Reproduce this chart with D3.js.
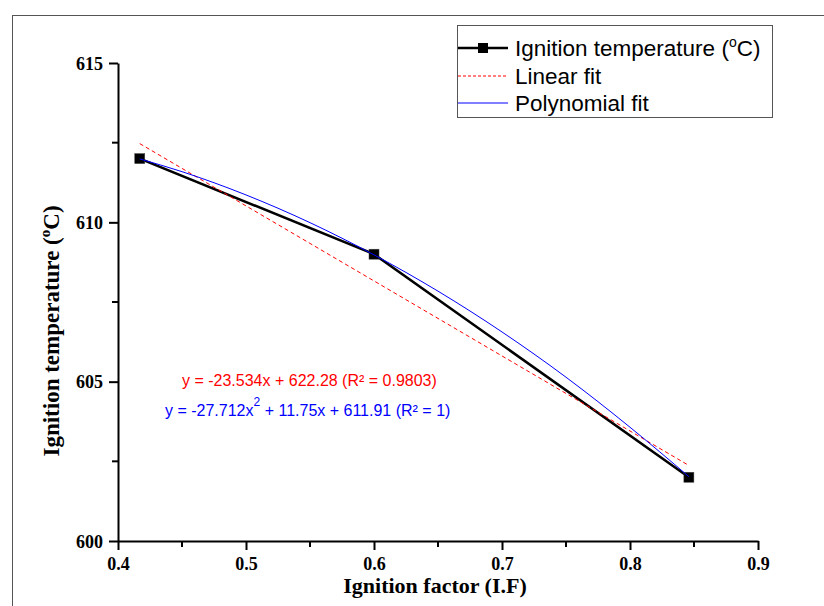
<!DOCTYPE html>
<html>
<head>
<meta charset="utf-8">
<script src="https://cdn.jsdelivr.net/npm/d3@7"></script>
<style>
  html, body { margin: 0; padding: 0; background: #fff; }
  svg { display: block; }
</style>
</head>
<body>
<div id="chart"></div>
<script>
// measured data: ignition factor vs ignition temperature
const ignitionFactor = [0.417, 0.6, 0.846];
const ignitionTemp = [612, 609, 602];

// linear fit line, end points
const linearX = [0.417, 0.846];
const linearY = [612.47, 602.37];

// polynomial fit curve
const polyX = [0.417, 0.45, 0.5, 0.55, 0.6, 0.65, 0.7, 0.75, 0.8, 0.846];
const polyY = [611.99, 611.59, 610.86, 609.99, 608.98, 607.84, 606.56, 605.14, 603.57, 602.02];

const xTicks = [0.4, 0.5, 0.6, 0.7, 0.8, 0.9];
const xMinor = [0.45, 0.55, 0.65, 0.75, 0.85];
const yTicks = [600, 605, 610, 615];
const yMinor = [602.5, 607.5, 612.5];
const legendLabels = ['Ignition temperature', 'Linear fit', 'Polynomial fit'];
const linearEq = 'y = -23.534x + 622.28 (R² = 0.9803)';

const W = 824, H = 606;
const PLOT = { left: 118, right: 758, top: 63, bottom: 541 };

const svg = d3.select('#chart').append('svg')
  .attr('width', W)
  .attr('height', H);

// outer frame (cut off at right and bottom)
svg.append('rect')
  .attr('x', 12.5).attr('y', 15.5)
  .attr('width', 900).attr('height', 700)
  .attr('fill', 'none')
  .attr('stroke', '#555')
  .attr('stroke-width', 1);

const x = d3.scaleLinear().domain([0.4, 0.9]).range([PLOT.left, PLOT.right]);
const y = d3.scaleLinear().domain([600, 615]).range([PLOT.bottom, PLOT.top]);

const serif = '"Liberation Serif", "Times New Roman", serif';
const sans = '"Liberation Sans", Arial, sans-serif';

// axes
const xAxis = svg.append('g')
  .attr('transform', `translate(0,${PLOT.bottom})`)
  .call(d3.axisBottom(x).tickValues(xTicks).tickFormat(d3.format('.1f')).tickSize(9).tickSizeOuter(0));
xAxis.selectAll('.minor')
  .data(xMinor)
  .enter().append('line')
  .attr('class', 'minor')
  .attr('x1', d => x(d)).attr('x2', d => x(d))
  .attr('y1', 0).attr('y2', 6)
  .attr('stroke', '#000').attr('stroke-width', 2);

const yAxis = svg.append('g')
  .attr('transform', `translate(${PLOT.left},0)`)
  .call(d3.axisLeft(y).tickValues(yTicks).tickFormat(d3.format('d')).tickSize(9).tickSizeOuter(0));
yAxis.selectAll('.minor')
  .data(yMinor)
  .enter().append('line')
  .attr('class', 'minor')
  .attr('x1', 0).attr('x2', -6)
  .attr('y1', d => y(d)).attr('y2', d => y(d))
  .attr('stroke', '#000').attr('stroke-width', 2);

[xAxis, yAxis].forEach(ax => {
  ax.attr('font-family', serif).attr('font-size', 18).attr('font-weight', 'bold');
  ax.select('.domain').attr('stroke', '#000').attr('stroke-width', 2);
  ax.selectAll('.tick line').attr('stroke', '#000').attr('stroke-width', 2);
  ax.selectAll('.tick text').attr('fill', '#000');
});
xAxis.selectAll('.tick text').attr('dy', '0.71em').attr('y', 16);
yAxis.selectAll('.tick text').attr('x', -15).attr('dy', '0.34em');

// axis titles
svg.append('text')
  .attr('x', (PLOT.left + PLOT.right) / 2 - 3)
  .attr('y', 593)
  .attr('text-anchor', 'middle')
  .attr('font-family', serif)
  .attr('font-weight', 'bold')
  .attr('font-size', 22)
  .text('Ignition factor (I.F)');

const yTitle = svg.append('text')
  .attr('transform', 'translate(59,331) rotate(-90)')
  .attr('text-anchor', 'middle')
  .attr('font-family', serif)
  .attr('font-weight', 'bold')
  .attr('font-size', 23);
yTitle.append('tspan').text('Ignition temperature (');
yTitle.append('tspan').attr('dy', -9).attr('font-size', 15).text('o');
yTitle.append('tspan').attr('dy', 9).text('C)');

// data series
const pts = ignitionFactor.map((f, i) => [f, ignitionTemp[i]]);
svg.append('path')
  .datum(pts)
  .attr('fill', 'none')
  .attr('stroke', '#000')
  .attr('stroke-width', 2.5)
  .attr('d', d3.line().x(d => x(d[0])).y(d => y(d[1])));

svg.selectAll('.pt')
  .data(pts)
  .enter().append('rect')
  .attr('class', 'pt')
  .attr('x', d => x(d[0]) - 5)
  .attr('y', d => y(d[1]) - 5)
  .attr('width', 10).attr('height', 10)
  .attr('fill', '#000')
  .attr('stroke', '#444')
  .attr('stroke-width', 0.5);

// fits
svg.append('path')
  .datum(linearX.map((v, i) => [v, linearY[i]]))
  .attr('fill', 'none')
  .attr('stroke', '#ff0000')
  .attr('stroke-width', 1)
  .attr('stroke-dasharray', '4,3')
  .attr('d', d3.line().x(d => x(d[0])).y(d => y(d[1])));

svg.append('path')
  .datum(polyX.map((v, i) => [v, polyY[i]]))
  .attr('fill', 'none')
  .attr('stroke', '#0000ff')
  .attr('stroke-width', 1)
  .attr('d', d3.line().curve(d3.curveMonotoneX).x(d => x(d[0])).y(d => y(d[1])));

// equations
svg.append('text')
  .attr('x', 182).attr('y', 386)
  .attr('fill', '#ff0000')
  .attr('font-family', sans)
  .attr('font-size', 16)
  .text(linearEq);

const polyEq = svg.append('text')
  .attr('x', 165).attr('y', 416)
  .attr('fill', '#0000ff')
  .attr('font-family', sans)
  .attr('font-size', 16);
polyEq.append('tspan').text('y = -27.712x');
polyEq.append('tspan').attr('dy', -10).attr('font-size', 12).text('2');
polyEq.append('tspan').attr('dy', 10).text(' + 11.75x + 611.91 (R² = 1)');

// legend
const lg = svg.append('g');
lg.append('rect')
  .attr('x', 457.5).attr('y', 25.5)
  .attr('width', 315).attr('height', 92)
  .attr('fill', '#fff')
  .attr('stroke', '#555')
  .attr('stroke-width', 1);

const rowY = [48, 76, 103];
lg.append('line')
  .attr('x1', 458).attr('x2', 508).attr('y1', rowY[0]).attr('y2', rowY[0])
  .attr('stroke', '#000').attr('stroke-width', 2.5);
lg.append('rect')
  .attr('x', 478).attr('y', rowY[0] - 5).attr('width', 10).attr('height', 10)
  .attr('fill', '#000');
lg.append('line')
  .attr('x1', 458).attr('x2', 508).attr('y1', rowY[1]).attr('y2', rowY[1])
  .attr('stroke', '#ff0000').attr('stroke-width', 1).attr('stroke-dasharray', '3,2');
lg.append('line')
  .attr('x1', 458).attr('x2', 508).attr('y1', rowY[2]).attr('y2', rowY[2])
  .attr('stroke', '#0000ff').attr('stroke-width', 1);

legendLabels.forEach((lab, i) => {
  const t = lg.append('text')
    .attr('x', 515).attr('y', rowY[i])
    .attr('dy', '0.36em')
    .attr('font-family', sans)
    .attr('font-size', 22.5)
    .attr('fill', '#000');
  t.append('tspan').text(lab);
  if (i === 0) {
    t.append('tspan').text(' (');
    t.append('tspan').attr('dy', -9).attr('font-size', 14).text('o');
    t.append('tspan').attr('dy', 9).text('C)');
  }
});
</script>
</body>
</html>
